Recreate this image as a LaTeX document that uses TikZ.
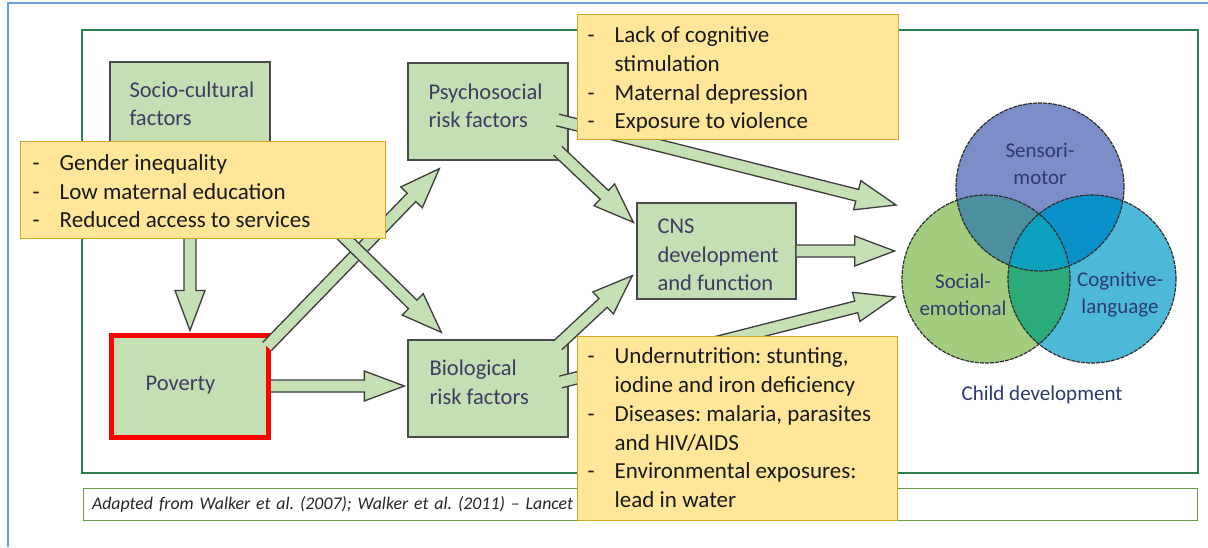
\documentclass[tikz,border=0pt]{standalone}
\usepackage{fontspec}
\setmainfont{Carlito}
\usetikzlibrary{calc}
\definecolor{gfill}{HTML}{C5DFB4}
\definecolor{gline}{HTML}{4A4A4A}
\definecolor{gtext}{HTML}{3E3C60}
\definecolor{yfill}{HTML}{FFE699}
\definecolor{yline}{HTML}{D4A82A}
\definecolor{afill}{HTML}{C6E0B5}
\definecolor{aline}{HTML}{3C3C3C}
\definecolor{frameblue}{HTML}{6A9FD8}
\definecolor{framegreen}{HTML}{2E7D50}
\definecolor{capgreen}{HTML}{6A9A48}
\definecolor{vtop}{HTML}{7B8EC8}
\definecolor{vleft}{HTML}{A3CD7E}
\definecolor{vright}{HTML}{4DB9D8}
\definecolor{vtl}{HTML}{4B8FA0}
\definecolor{vtr}{HTML}{0A90C8}
\definecolor{vlr}{HTML}{2BAB7A}
\definecolor{vall}{HTML}{0AA0BE}
\definecolor{vtext}{HTML}{2E3A6E}
\definecolor{vline}{HTML}{2F2F2F}

\newcommand{\blockarrow}[2]{%
  \coordinate (ba-h) at ($(#2)!40pt!(#1)$);
  \path[fill=afill]
    ($(#1)!6pt!90:(#2)$) -- ($(ba-h)!6pt!90:(#2)$) -- ($(ba-h)!15pt!90:(#2)$) -- (#2)
    -- ($(ba-h)!15pt!-90:(#2)$) -- ($(ba-h)!6pt!-90:(#2)$) -- ($(#1)!6pt!-90:(#2)$) -- cycle;
  \draw[aline, line width=1.3pt, line join=miter]
    ($(#1)!6pt!90:(#2)$) -- ($(ba-h)!6pt!90:(#2)$) -- ($(ba-h)!15pt!90:(#2)$) -- (#2)
    -- ($(ba-h)!15pt!-90:(#2)$) -- ($(ba-h)!6pt!-90:(#2)$) -- ($(#1)!6pt!-90:(#2)$);
}
\frenchspacing
\begin{document}
\begin{tikzpicture}[x=1pt,y=1pt,
  gbox/.style={draw=gline, fill=gfill, line width=1.3pt, inner sep=0pt},
  gtxt/.style={anchor=west, align=left, inner sep=0pt, text=gtext, font=\fontsize{22.5}{28.5}\selectfont},
  ybox/.style={draw=yline, fill=yfill, line width=1pt, inner sep=0pt},
  ytxt/.style={anchor=west, align=left, inner sep=0pt, text=black!90, font=\fontsize{23}{28.7}\selectfont},
  vcirc/.style={circle, minimum size=168pt, inner sep=0pt},
  vlabel/.style={text=vtext, align=center, font=\fontsize{21}{27}\selectfont},
]
\useasboundingbox (0,0) rectangle (1208,-547);
\fill[white] (0,0) rectangle (1208,-547);

% frames
\draw[frameblue, line width=2pt] (8,-547) -- (8,-3) -- (1208,-3);
\draw[framegreen, line width=1.5pt] (82,-30) rectangle (1198,-473);
\node[draw=capgreen, line width=1pt, minimum width=1114pt, minimum height=32pt, inner xsep=9pt,
  text width=1096pt, align=left, text=black!85, font=\fontsize{17.8}{20}\selectfont\itshape] (cap) at (640,-504)
  {Adapted from Walker et al. (2007); Walker et al. (2011) – Lancet};

% green boxes
\node[gbox, minimum width=160pt, minimum height=98pt] (soc) at (190,-111) {};
\node[gbox, minimum width=160pt, minimum height=97pt] (psy) at (488,-111.5) {};
\node[gbox, minimum width=159pt, minimum height=96pt] (cns) at (716.5,-251) {};
\node[gbox, minimum width=160pt, minimum height=97pt] (bio) at (488,-388.5) {};
\node[gbox, draw=red, line width=5pt, minimum width=157pt, minimum height=102pt] (pov) at (190,-386) {};

\node[gtxt] (soct) at ($(soc.west)+(20,7)$) {Socio-cultural\\factors};
\node[gtxt] (psyt) at ($(psy.west)+(21,5.5)$) {Psychosocial\\risk factors};
\node[gtxt] (cnst) at ($(cns.west)+(21,-4)$) {CNS\\development\\and function};
\node[gtxt] (biot) at ($(bio.west)+(22,6)$) {Biological\\risk factors};
\node[gtxt] (povt) at ($(pov.west)+(36.5,1)$) {Poverty};

% Venn nodes (positions)
\node[vcirc] (vt) at (1040,-187) {};
\node[vcirc] (vl) at (986,-279) {};
\node[vcirc] (vr) at (1092,-279) {};

% arrow end points
\coordinate (a1s) at (soc.south);
\coordinate (a1t) at ($(pov.north)+(0,2)$);
\coordinate (a2s) at ($(pov.north east)+(-4,-14)$);
\coordinate (a2t) at ($(psy.south west)+(32,-8)$);
\coordinate (a3s) at ($(soc.south east)+(-5,0)$);
\coordinate (a3t) at ($(bio.north west)+(34,7)$);
\coordinate (a4s) at (pov.east);
\coordinate (a4t) at ($(pov.east -| bio.west)+(-3,0)$);
\coordinate (a5s) at ($(psy.south east)+(-11,10)$);
\coordinate (a5t) at ($(cns.north west)+(-3,-20)$);
\coordinate (a6s) at ($(psy.east)+(-11,-8.5)$);
\coordinate (a6t) at ($(vl.center)+(-90,74)$);
\coordinate (a7s) at (cns.east);
\coordinate (a7t) at ($(cns.east)+(98,0)$);
\coordinate (a8s) at ($(bio.north east)+(-11,-6)$);
\coordinate (a8t) at ($(cns.south west)+(-4,24)$);
\coordinate (a9s) at ($(bio.east)+(-8,6.5)$);
\coordinate (a9t) at ($(vl.center)+(-91,-18)$);

\blockarrow{a1s}{a1t}
\blockarrow{a2s}{a2t}
\blockarrow{a3s}{a3t}
\blockarrow{a4s}{a4t}
\blockarrow{a5s}{a5t}
\blockarrow{a6s}{a6t}
\blockarrow{a7s}{a7t}
\blockarrow{a8s}{a8t}
\blockarrow{a9s}{a9t}

% yellow boxes
\node[ybox, minimum width=365pt, minimum height=97pt] (yl) at (202.5,-189.5) {};
\node[ybox, minimum width=321pt, minimum height=125pt] (yp) at (737.5,-76.5) {};
\node[ybox, minimum width=320pt, minimum height=184pt] (yb) at (737,-428) {};
\node[ytxt] (ylt) at ($(yl.west)+(13,-4)$)
  {\begin{tabular}{@{}p{27pt}@{}l@{}}- & Gender inequality\\ - & Low maternal education\\ - & Reduced access to services\end{tabular}};
\node[ytxt] (ypt) at ($(yp.west)+(11,-3.5)$)
  {\begin{tabular}{@{}p{27pt}@{}l@{}}- & Lack of cognitive\\ & stimulation\\ - & Maternal depression\\ - & Exposure to violence\end{tabular}};
\node[ytxt] (ybt) at ($(yb.west)+(11,-2)$)
  {\begin{tabular}{@{}p{27pt}@{}l@{}}- & Undernutrition: stunting,\\ & iodine and iron deficiency\\ - & Diseases: malaria, parasites\\ & and HIV/AIDS\\ - & Environmental exposures:\\ & lead in water\end{tabular}};

% Venn fills
\fill[vtop] (vt.center) circle (84pt);
\fill[vleft] (vl.center) circle (84pt);
\fill[vright] (vr.center) circle (84pt);
\begin{scope}
  \clip (vt.center) circle (84pt);
  \fill[vtl] (vl.center) circle (84pt);
  \fill[vtr] (vr.center) circle (84pt);
\end{scope}
\begin{scope}
  \clip (vl.center) circle (84pt);
  \fill[vlr] (vr.center) circle (84pt);
  \clip (vr.center) circle (84pt);
  \fill[vall] (vt.center) circle (84pt);
\end{scope}
\draw[vline, line width=1.2pt, dash pattern=on 4pt off 1pt] (vt.center) circle (84pt);
\draw[vline, line width=1.2pt, dash pattern=on 4pt off 1pt] (vl.center) circle (84pt);
\draw[vline, line width=1.2pt, dash pattern=on 4pt off 1pt] (vr.center) circle (84pt);

\node[vlabel] (lsm) at (1040,-164) {Sensori-\\motor};
\node[vlabel] (lse) at (963,-295) {Social-\\emotional};
\node[vlabel] (lcl) at (1120,-295) {Cognitive-\\language};
\node[vlabel] (lcd) at (1042,-395) {Child development};
\end{tikzpicture}
\end{document}
